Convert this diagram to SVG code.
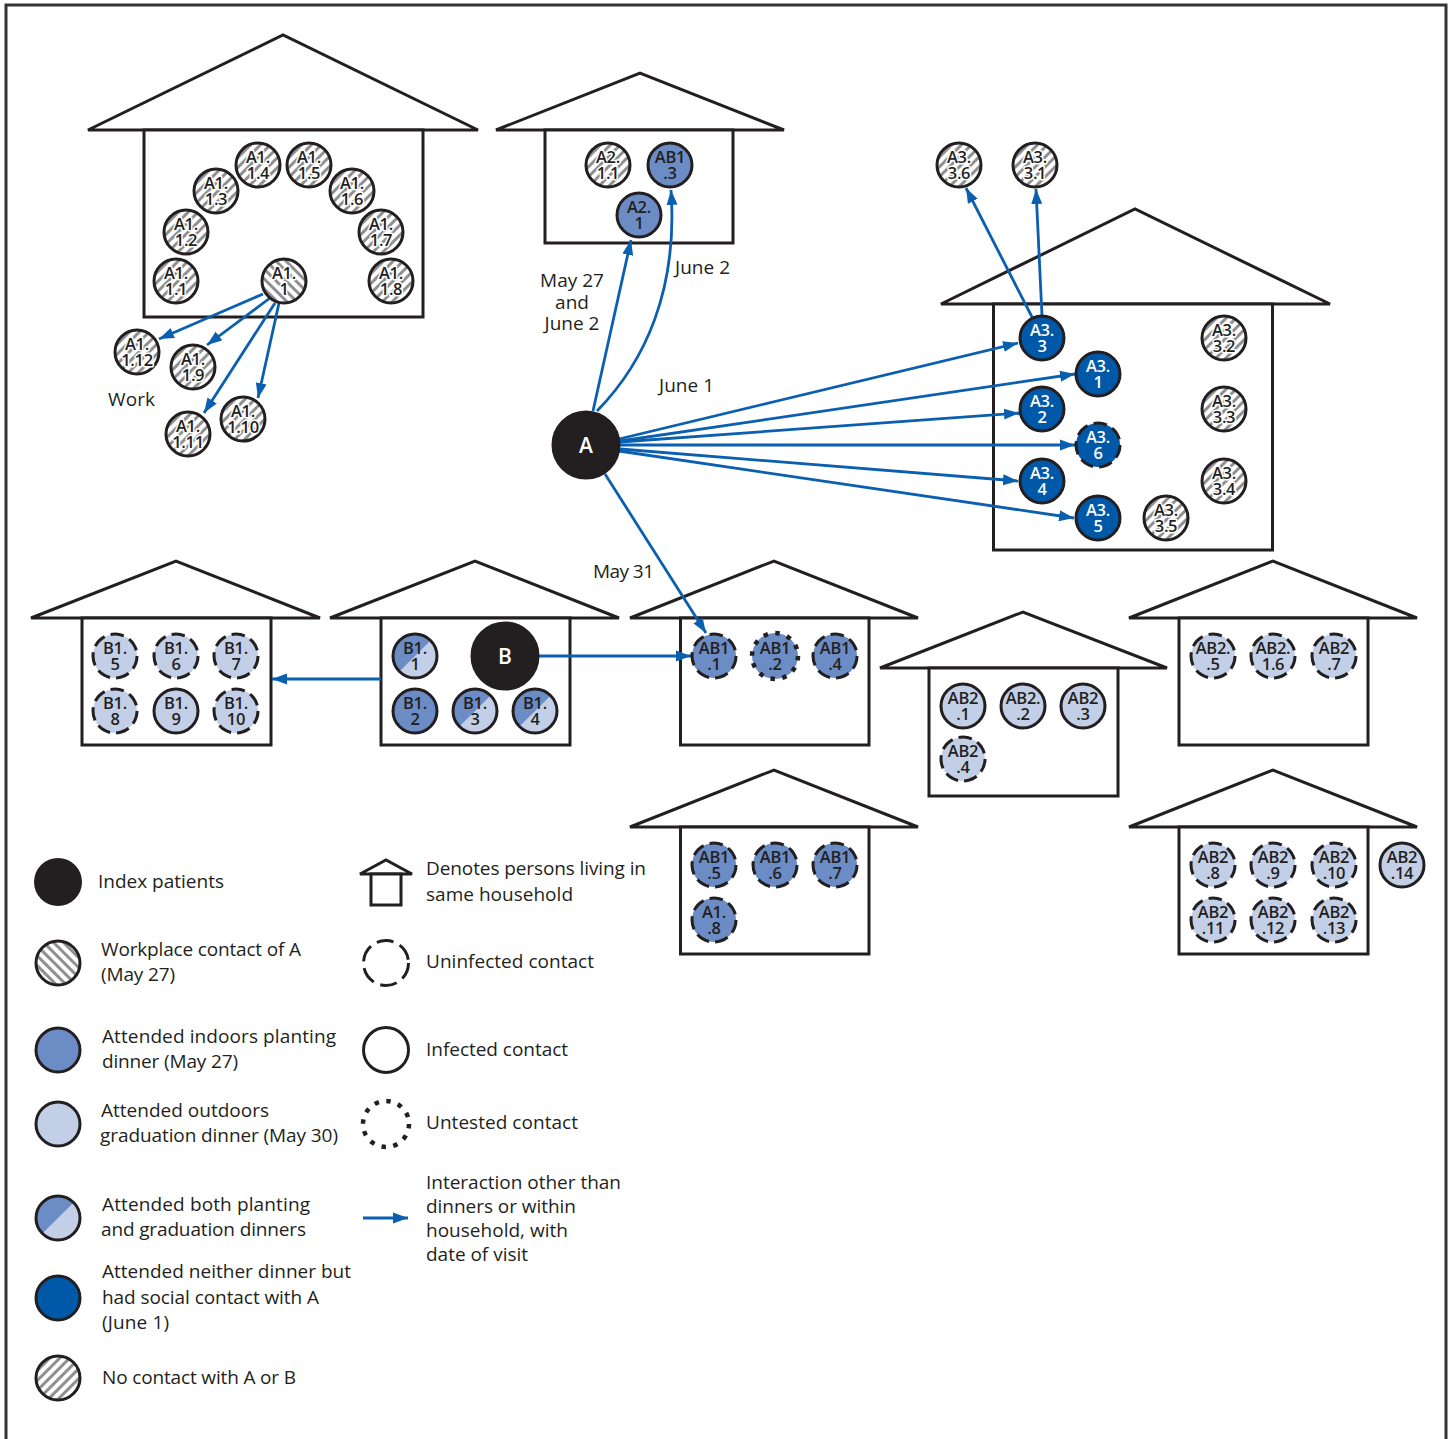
<svg xmlns="http://www.w3.org/2000/svg" width="1452" height="1439" viewBox="0 0 1452 1439">
<style>
text{font-family:"Open Sans","Liberation Sans",sans-serif;fill:#231f20}
.lbl{font-size:19px}
.house{fill:#fff;stroke:#231f20;stroke-width:3}
.n{stroke:#231f20;stroke-width:3}
.n text{stroke:none;font-size:16.500px;font-weight:600;text-anchor:middle;letter-spacing:-.3px}
.m{fill:#6b8cc4}.l{fill:#c3cfe7}.d{fill:#0058a8}.k{fill:#231f20}.w{fill:#fff}
.f{fill:url(#hatchF)}.b{fill:url(#hatchB)}
.dash{stroke-dasharray:13.500 6.200}
.dash2{stroke-dasharray:17 7}
.dot{stroke-width:4.500;stroke-dasharray:4.500 7.500}
.nos{stroke:none}
.n.hal text{stroke:#fff;stroke-width:3px;paint-order:stroke;stroke-linejoin:round}
.n.wt text{fill:#fff}
.n.big text{fill:#fff;font-size:21px;font-weight:600;letter-spacing:0}
.conn line,.conn path{stroke:#0a5fb0;stroke-width:2.800;fill:none;marker-end:url(#arr)}
</style>
<defs>
<pattern id="hatchF" width="7" height="7" patternUnits="userSpaceOnUse" patternTransform="rotate(45)"><rect width="7" height="7" fill="#fff"/><rect width="3" height="7" fill="#909092"/></pattern>
<pattern id="hatchB" width="7" height="7" patternUnits="userSpaceOnUse" patternTransform="rotate(-45)"><rect width="7" height="7" fill="#fff"/><rect width="3" height="7" fill="#909092"/></pattern>
<marker id="arr" markerUnits="userSpaceOnUse" markerWidth="16" markerHeight="12" refX="15" refY="6" orient="auto"><path d="M0,0.5 L15,6 L0,11.500 Z" fill="#0a5fb0"/></marker>
<path id="half" d="M-15.6,15.6 A22,22 0 0 1 15.6,-15.6 Z" fill="#6b8cc4" stroke="none"/>
</defs>
<rect width="1452" height="1439" fill="#fff"/>
<path d="M6,1439 V5 H1446 V1439" fill="none" stroke="#333" stroke-width="3"/>

<g id="houses">
<g id="house-a1"><polygon class="house" points="88,130 283,35 478,130"/><rect class="house" x="144" y="130" width="279" height="187"/></g>
<g id="house-a2"><polygon class="house" points="496,130 640,73 784,130"/><rect class="house" x="545" y="130" width="188" height="113"/></g>
<g id="house-a3"><polygon class="house" points="941,304 1135,209 1330,304"/><rect class="house" x="993.5" y="304" width="279" height="246"/></g>
<g id="house-b0"><polygon class="house" points="31,618 176,561 320,618"/><rect class="house" x="82" y="618" width="189" height="127"/></g>
<g id="house-b1"><polygon class="house" points="330,618 475,561 619,618"/><rect class="house" x="381" y="618" width="189" height="127"/></g>
<g id="house-ab1"><polygon class="house" points="630,618 774,561 918,618"/><rect class="house" x="680.5" y="618" width="188.500" height="127"/></g>
<g id="house-ab2a"><polygon class="house" points="880,668 1023,612 1167,668"/><rect class="house" x="929" y="668" width="189" height="128"/></g>
<g id="house-ab2b"><polygon class="house" points="1129,618 1273,561 1417,618"/><rect class="house" x="1179" y="618" width="189" height="127"/></g>
<g id="house-ab1b"><polygon class="house" points="630,827 774,770 918,827"/><rect class="house" x="680.5" y="827" width="188.500" height="127"/></g>
<g id="house-ab2c"><polygon class="house" points="1129,827 1273,770 1417,827"/><rect class="house" x="1179" y="827" width="189" height="127"/></g>
</g>

<g id="connectors" class="conn">
<line x1="263" y1="294" x2="159" y2="339"/>
<line x1="270" y1="298" x2="207" y2="345"/>
<line x1="275" y1="303" x2="204" y2="413"/>
<line x1="279" y1="303" x2="258" y2="398"/>
<line x1="593" y1="411" x2="631" y2="240"/>
<path d="M597,411 C645,362 678,290 671,190"/>
<line x1="619" y1="439" x2="1018" y2="343"/>
<line x1="620" y1="441" x2="1075" y2="374"/>
<line x1="620" y1="442" x2="1019" y2="413"/>
<line x1="620" y1="445" x2="1075" y2="445"/>
<line x1="620" y1="449" x2="1018" y2="481"/>
<line x1="619" y1="451" x2="1074" y2="518"/>
<line x1="605" y1="474" x2="706" y2="633"/>
<line x1="539" y1="656" x2="691" y2="656"/>
<line x1="381" y1="679" x2="272" y2="679"/>
<line x1="1032" y1="317" x2="966" y2="188"/>
<line x1="1042" y1="316" x2="1036" y2="189"/>
<line x1="363" y1="1218" x2="408" y2="1218"/>
</g>

<g id="nodes">
<g id="A1-1-1" class="n hal" transform="translate(176,281)"><circle r="22" class="f"/><text><tspan x="0" y="-2">A1.</tspan><tspan x="0" y="14">1.1</tspan></text></g>
<g id="A1-1-2" class="n hal" transform="translate(186,232)"><circle r="22" class="f"/><text><tspan x="0" y="-2">A1.</tspan><tspan x="0" y="14">1.2</tspan></text></g>
<g id="A1-1-3" class="n hal" transform="translate(216,191)"><circle r="22" class="f"/><text><tspan x="0" y="-2">A1.</tspan><tspan x="0" y="14">1.3</tspan></text></g>
<g id="A1-1-4" class="n hal" transform="translate(258,165)"><circle r="22" class="f"/><text><tspan x="0" y="-2">A1.</tspan><tspan x="0" y="14">1.4</tspan></text></g>
<g id="A1-1-5" class="n hal" transform="translate(309,165)"><circle r="22" class="f"/><text><tspan x="0" y="-2">A1.</tspan><tspan x="0" y="14">1.5</tspan></text></g>
<g id="A1-1-6" class="n hal" transform="translate(352,191)"><circle r="22" class="f"/><text><tspan x="0" y="-2">A1.</tspan><tspan x="0" y="14">1.6</tspan></text></g>
<g id="A1-1-7" class="n hal" transform="translate(381,232)"><circle r="22" class="f"/><text><tspan x="0" y="-2">A1.</tspan><tspan x="0" y="14">1.7</tspan></text></g>
<g id="A1-1-8" class="n hal" transform="translate(391,281)"><circle r="22" class="f"/><text><tspan x="0" y="-2">A1.</tspan><tspan x="0" y="14">1.8</tspan></text></g>
<g id="A1-1" class="n hal" transform="translate(284,281)"><circle r="22" class="b"/><text><tspan x="0" y="-2">A1.</tspan><tspan x="0" y="14">1</tspan></text></g>
<g id="A1-1-12" class="n hal" transform="translate(137,352)"><circle r="22" class="f"/><text><tspan x="0" y="-2">A1.</tspan><tspan x="0" y="14">1.12</tspan></text></g>
<g id="A1-1-9" class="n hal" transform="translate(193,367)"><circle r="22" class="f"/><text><tspan x="0" y="-2">A1.</tspan><tspan x="0" y="14">1.9</tspan></text></g>
<g id="A1-1-11" class="n hal" transform="translate(188,434)"><circle r="22" class="f"/><text><tspan x="0" y="-2">A1.</tspan><tspan x="0" y="14">1.11</tspan></text></g>
<g id="A1-1-10" class="n hal" transform="translate(243,419)"><circle r="22" class="f"/><text><tspan x="0" y="-2">A1.</tspan><tspan x="0" y="14">1.10</tspan></text></g>

<g id="A2-1-1" class="n hal" transform="translate(608,165)"><circle r="22" class="f"/><text><tspan x="0" y="-2">A2.</tspan><tspan x="0" y="14">1.1</tspan></text></g>
<g id="AB1-3" class="n" transform="translate(670,165)"><circle r="22" class="m"/><text><tspan x="0" y="-2">AB1</tspan><tspan x="0" y="14">.3</tspan></text></g>
<g id="A2-1" class="n" transform="translate(639,215)"><circle r="22" class="m"/><text><tspan x="0" y="-2">A2.</tspan><tspan x="0" y="14">1</tspan></text></g>

<g id="A3-3-6" class="n hal" transform="translate(959,165)"><circle r="22" class="f"/><text><tspan x="0" y="-2">A3.</tspan><tspan x="0" y="14">3.6</tspan></text></g>
<g id="A3-3-1" class="n hal" transform="translate(1035,165)"><circle r="22" class="f"/><text><tspan x="0" y="-2">A3.</tspan><tspan x="0" y="14">3.1</tspan></text></g>
<g id="A3-3" class="n wt" transform="translate(1042,338)"><circle r="22" class="d"/><text><tspan x="0" y="-2">A3.</tspan><tspan x="0" y="14">3</tspan></text></g>
<g id="A3-1" class="n wt" transform="translate(1098,374)"><circle r="22" class="d"/><text><tspan x="0" y="-2">A3.</tspan><tspan x="0" y="14">1</tspan></text></g>
<g id="A3-2" class="n wt" transform="translate(1042,409)"><circle r="22" class="d"/><text><tspan x="0" y="-2">A3.</tspan><tspan x="0" y="14">2</tspan></text></g>
<g id="A3-6" class="n wt" transform="translate(1098,445)"><circle r="22" class="d dash"/><text><tspan x="0" y="-2">A3.</tspan><tspan x="0" y="14">6</tspan></text></g>
<g id="A3-4" class="n wt" transform="translate(1042,481)"><circle r="22" class="d"/><text><tspan x="0" y="-2">A3.</tspan><tspan x="0" y="14">4</tspan></text></g>
<g id="A3-5" class="n wt" transform="translate(1098,518)"><circle r="22" class="d"/><text><tspan x="0" y="-2">A3.</tspan><tspan x="0" y="14">5</tspan></text></g>
<g id="A3-3-5" class="n hal" transform="translate(1166,518)"><circle r="22" class="f"/><text><tspan x="0" y="-2">A3.</tspan><tspan x="0" y="14">3.5</tspan></text></g>
<g id="A3-3-2" class="n hal" transform="translate(1224,338)"><circle r="22" class="f"/><text><tspan x="0" y="-2">A3.</tspan><tspan x="0" y="14">3.2</tspan></text></g>
<g id="A3-3-3" class="n hal" transform="translate(1224,409)"><circle r="22" class="f"/><text><tspan x="0" y="-2">A3.</tspan><tspan x="0" y="14">3.3</tspan></text></g>
<g id="A3-3-4" class="n hal" transform="translate(1224,481)"><circle r="22" class="f"/><text><tspan x="0" y="-2">A3.</tspan><tspan x="0" y="14">3.4</tspan></text></g>

<g id="A" class="n big" transform="translate(586,445)"><circle r="33" class="k"/><text y="8">A</text></g>
<g id="B" class="n big" transform="translate(505,656)"><circle r="33" class="k"/><text y="8">B</text></g>

<g id="B1-5" class="n" transform="translate(115,656)"><circle r="22" class="l dash"/><text><tspan x="0" y="-2">B1.</tspan><tspan x="0" y="14">5</tspan></text></g>
<g id="B1-6" class="n" transform="translate(176,656)"><circle r="22" class="l dash"/><text><tspan x="0" y="-2">B1.</tspan><tspan x="0" y="14">6</tspan></text></g>
<g id="B1-7" class="n" transform="translate(236,656)"><circle r="22" class="l dash"/><text><tspan x="0" y="-2">B1.</tspan><tspan x="0" y="14">7</tspan></text></g>
<g id="B1-8" class="n" transform="translate(115,711)"><circle r="22" class="l dash"/><text><tspan x="0" y="-2">B1.</tspan><tspan x="0" y="14">8</tspan></text></g>
<g id="B1-9" class="n" transform="translate(176,711)"><circle r="22" class="l"/><text><tspan x="0" y="-2">B1.</tspan><tspan x="0" y="14">9</tspan></text></g>
<g id="B1-10" class="n" transform="translate(236,711)"><circle r="22" class="l dash"/><text><tspan x="0" y="-2">B1.</tspan><tspan x="0" y="14">10</tspan></text></g>

<g id="B1-1" class="n" transform="translate(415,656)"><circle r="22" class="l nos"/><use href="#half"/><circle r="22" fill="none"/><text><tspan x="0" y="-2">B1.</tspan><tspan x="0" y="14">1</tspan></text></g>
<g id="B1-2" class="n" transform="translate(415,711)"><circle r="22" class="m"/><text><tspan x="0" y="-2">B1.</tspan><tspan x="0" y="14">2</tspan></text></g>
<g id="B1-3" class="n" transform="translate(475,711)"><circle r="22" class="l nos"/><use href="#half"/><circle r="22" fill="none"/><text><tspan x="0" y="-2">B1.</tspan><tspan x="0" y="14">3</tspan></text></g>
<g id="B1-4" class="n" transform="translate(535,711)"><circle r="22" class="l nos"/><use href="#half"/><circle r="22" fill="none"/><text><tspan x="0" y="-2">B1.</tspan><tspan x="0" y="14">4</tspan></text></g>

<g id="AB1-1" class="n" transform="translate(714,656)"><circle r="22" class="m dash"/><text><tspan x="0" y="-2">AB1</tspan><tspan x="0" y="14">.1</tspan></text></g>
<g id="AB1-2" class="n" transform="translate(775,656)"><circle r="23" class="m dot"/><text><tspan x="0" y="-2">AB1</tspan><tspan x="0" y="14">.2</tspan></text></g>
<g id="AB1-4" class="n" transform="translate(835,656)"><circle r="22" class="m dash"/><text><tspan x="0" y="-2">AB1</tspan><tspan x="0" y="14">.4</tspan></text></g>

<g id="AB2-1" class="n" transform="translate(963,706)"><circle r="22" class="l"/><text><tspan x="0" y="-2">AB2</tspan><tspan x="0" y="14">.1</tspan></text></g>
<g id="AB2-2" class="n" transform="translate(1023,706)"><circle r="22" class="l"/><text><tspan x="0" y="-2">AB2.</tspan><tspan x="0" y="14">.2</tspan></text></g>
<g id="AB2-3" class="n" transform="translate(1083,706)"><circle r="22" class="l"/><text><tspan x="0" y="-2">AB2</tspan><tspan x="0" y="14">.3</tspan></text></g>
<g id="AB2-4" class="n" transform="translate(963,759)"><circle r="22" class="l dash"/><text><tspan x="0" y="-2">AB2</tspan><tspan x="0" y="14">.4</tspan></text></g>

<g id="AB2-5" class="n" transform="translate(1213,656)"><circle r="22" class="l dash"/><text><tspan x="0" y="-2">AB2.</tspan><tspan x="0" y="14">.5</tspan></text></g>
<g id="AB2-6" class="n" transform="translate(1273,656)"><circle r="22" class="l dash"/><text><tspan x="0" y="-2">AB2.</tspan><tspan x="0" y="14">1.6</tspan></text></g>
<g id="AB2-7" class="n" transform="translate(1334,656)"><circle r="22" class="l dash"/><text><tspan x="0" y="-2">AB2</tspan><tspan x="0" y="14">.7</tspan></text></g>

<g id="AB1-5" class="n" transform="translate(714,865)"><circle r="22" class="m dash"/><text><tspan x="0" y="-2">AB1</tspan><tspan x="0" y="14">.5</tspan></text></g>
<g id="AB1-6" class="n" transform="translate(775,865)"><circle r="22" class="m dash"/><text><tspan x="0" y="-2">AB1</tspan><tspan x="0" y="14">.6</tspan></text></g>
<g id="AB1-7" class="n" transform="translate(835,865)"><circle r="22" class="m dash"/><text><tspan x="0" y="-2">AB1</tspan><tspan x="0" y="14">.7</tspan></text></g>
<g id="A1-8" class="n" transform="translate(714,920)"><circle r="22" class="m dash"/><text><tspan x="0" y="-2">A1.</tspan><tspan x="0" y="14">.8</tspan></text></g>

<g id="AB2-8" class="n" transform="translate(1213,865)"><circle r="22" class="l dash"/><text><tspan x="0" y="-2">AB2</tspan><tspan x="0" y="14">.8</tspan></text></g>
<g id="AB2-9" class="n" transform="translate(1273,865)"><circle r="22" class="l dash"/><text><tspan x="0" y="-2">AB2</tspan><tspan x="0" y="14">.9</tspan></text></g>
<g id="AB2-10" class="n" transform="translate(1334,865)"><circle r="22" class="l dash"/><text><tspan x="0" y="-2">AB2</tspan><tspan x="0" y="14">.10</tspan></text></g>
<g id="AB2-11" class="n" transform="translate(1213,920)"><circle r="22" class="l dash"/><text><tspan x="0" y="-2">AB2</tspan><tspan x="0" y="14">.11</tspan></text></g>
<g id="AB2-12" class="n" transform="translate(1273,920)"><circle r="22" class="l dash"/><text><tspan x="0" y="-2">AB2</tspan><tspan x="0" y="14">.12</tspan></text></g>
<g id="AB2-13" class="n" transform="translate(1334,920)"><circle r="22" class="l dash"/><text><tspan x="0" y="-2">AB2</tspan><tspan x="0" y="14">.13</tspan></text></g>
<g id="AB2-14" class="n" transform="translate(1402,865)"><circle r="22" class="l"/><text><tspan x="0" y="-2">AB2</tspan><tspan x="0" y="14">.14</tspan></text></g>
</g>

<g id="edge-labels" class="lbl">
<text x="108" y="406" textLength="47">Work</text>
<text text-anchor="middle"><tspan x="572" y="287">May 27</tspan><tspan x="572" y="309">and</tspan><tspan x="572" y="330">June 2</tspan></text>
<text x="675" y="274" textLength="55">June 2</text>
<text x="659" y="392" textLength="55">June 1</text>
<text x="593" y="578" textLength="61">May 31</text>
</g>

<g id="legend" class="lbl">
<g id="leg-index"><circle class="k" cx="58" cy="882" r="24"/><text x="98" y="888" textLength="126">Index patients</text></g>
<g id="leg-work" class="n"><circle class="b" cx="58" cy="963" r="22"/></g>
<text x="101" y="956" textLength="200">Workplace contact of A</text><text x="101" y="981" textLength="74">(May 27)</text>
<g id="leg-indoor" class="n"><circle class="m" cx="58" cy="1050" r="22"/></g>
<text x="102" y="1043" textLength="234">Attended indoors planting</text><text x="102" y="1068" textLength="136">dinner (May 27)</text>
<g id="leg-outdoor" class="n"><circle class="l" cx="58" cy="1124" r="22"/></g>
<text x="101" y="1117" textLength="168">Attended outdoors</text><text x="100" y="1142" textLength="238">graduation dinner (May 30)</text>
<g id="leg-both" class="n" transform="translate(58,1218)"><circle r="22" class="l nos"/><use href="#half"/><circle r="22" fill="none"/></g>
<text x="102" y="1211" textLength="208">Attended both planting</text><text x="101" y="1236" textLength="205">and graduation dinners</text>
<g id="leg-social" class="n"><circle class="d" cx="58" cy="1298" r="22"/></g>
<text x="102" y="1278" textLength="249">Attended neither dinner but</text><text x="102" y="1304" textLength="217">had social contact with A</text><text x="102" y="1329" textLength="67">(June 1)</text>
<g id="leg-none" class="n"><circle class="f" cx="58" cy="1378" r="22"/></g>
<text x="102" y="1384" textLength="194">No contact with A or B</text>

<g id="leg-house"><polygon class="house" points="360,874 386,860 412,874"/><rect class="house" x="371" y="874" width="30" height="31"/></g>
<text x="426" y="875" textLength="220">Denotes persons living in</text><text x="426" y="901" textLength="147">same household</text>
<g id="leg-uninf" class="n"><circle class="w dash2" cx="386" cy="963" r="22.500"/></g>
<text x="426" y="968" textLength="168">Uninfected contact</text>
<g id="leg-inf" class="n"><circle class="w" cx="386" cy="1050" r="22.500"/></g>
<text x="426" y="1056" textLength="142">Infected contact</text>
<g id="leg-unt" class="n"><circle class="w dot" cx="386" cy="1124" r="23"/></g>
<text x="426" y="1129" textLength="152">Untested contact</text>
<text x="426" y="1189" textLength="195">Interaction other than</text>
<text x="426" y="1213" textLength="150">dinners or within</text>
<text x="426" y="1237" textLength="142">household, with</text>
<text x="426" y="1261" textLength="102">date of visit</text>
</g>
</svg>
